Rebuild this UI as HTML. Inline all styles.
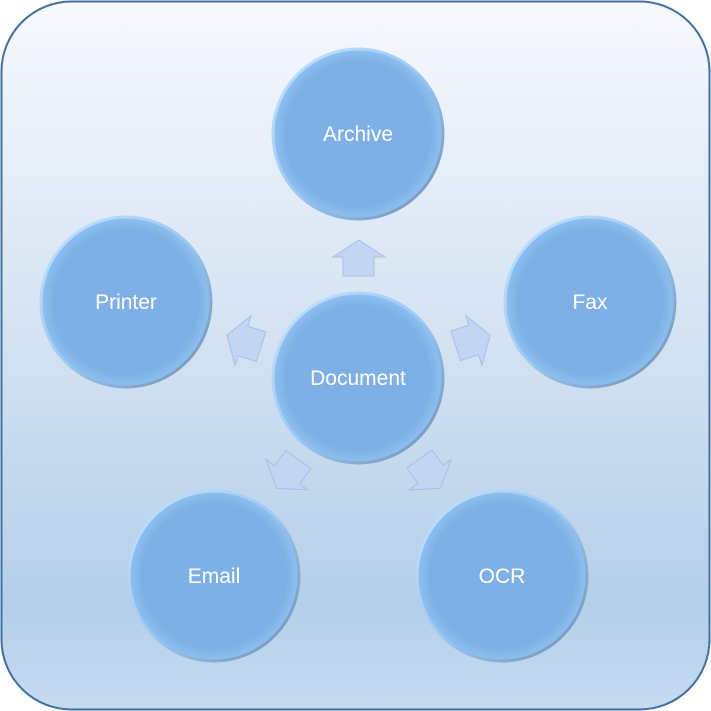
<!DOCTYPE html>
<html><head><meta charset="utf-8"><style>
html,body{margin:0;padding:0;width:711px;height:711px;overflow:hidden;background:#fff}
</style></head><body>
<svg width="711" height="711" viewBox="0 0 711 711" xmlns="http://www.w3.org/2000/svg">
<defs>
<linearGradient id="bg" x1="0" y1="0" x2="0" y2="1">
<stop offset="0" stop-color="#f7f9fd"/>
<stop offset="0.5" stop-color="#d2e1f1"/>
<stop offset="0.85" stop-color="#b4cfe9"/>
<stop offset="1" stop-color="#c6dbf0"/>
</linearGradient>
<linearGradient id="rim" x1="0" y1="0" x2="1" y2="1">
<stop offset="0" stop-color="#c4e4ff"/>
<stop offset="0.5" stop-color="#9cc8f2"/>
<stop offset="1" stop-color="#6f8fb0"/>
</linearGradient>
<radialGradient id="fill" cx="0.5" cy="0.5" r="0.5">
<stop offset="0.85" stop-color="#7eb0e6"/>
<stop offset="1" stop-color="#8ec0f0"/>
</radialGradient>
<g id="arr">
<polygon points="0,-19 26,-2 15,-2 15,17 -16,17 -16,-2 -26,-2" fill="#c2d5f2" stroke="#a9c0e0" stroke-width="1"/>
</g>
<g id="c">
<circle r="85" fill="url(#fill)" stroke="url(#rim)" stroke-width="3"/>
</g>
</defs>
<rect x="1.5" y="1.5" width="708" height="708" rx="70" ry="70" fill="url(#bg)" stroke="#41709f" stroke-width="2"/>
<g transform="translate(359,259)"><use href="#arr"/></g>
<g transform="translate(472,341) rotate(72)"><use href="#arr"/></g>
<g transform="translate(429,473) rotate(144)"><use href="#arr"/></g>
<g transform="translate(288,473) rotate(216)"><use href="#arr"/></g>
<g transform="translate(245,341) rotate(288)"><use href="#arr"/></g>
<g font-family="'Liberation Sans',sans-serif" font-size="21" fill="#fff" text-anchor="middle">
<use href="#c" x="358" y="134"/><text x="358" y="141">Archive</text>
<use href="#c" x="126" y="302"/><text x="126" y="309">Printer</text>
<use href="#c" x="590" y="302"/><text x="590" y="309">Fax</text>
<use href="#c" x="358" y="378"/><text x="358" y="385">Document</text>
<use href="#c" x="214" y="576"/><text x="214" y="583">Email</text>
<use href="#c" x="502" y="576"/><text x="502" y="583">OCR</text>
</g>
</svg>
</body></html>
